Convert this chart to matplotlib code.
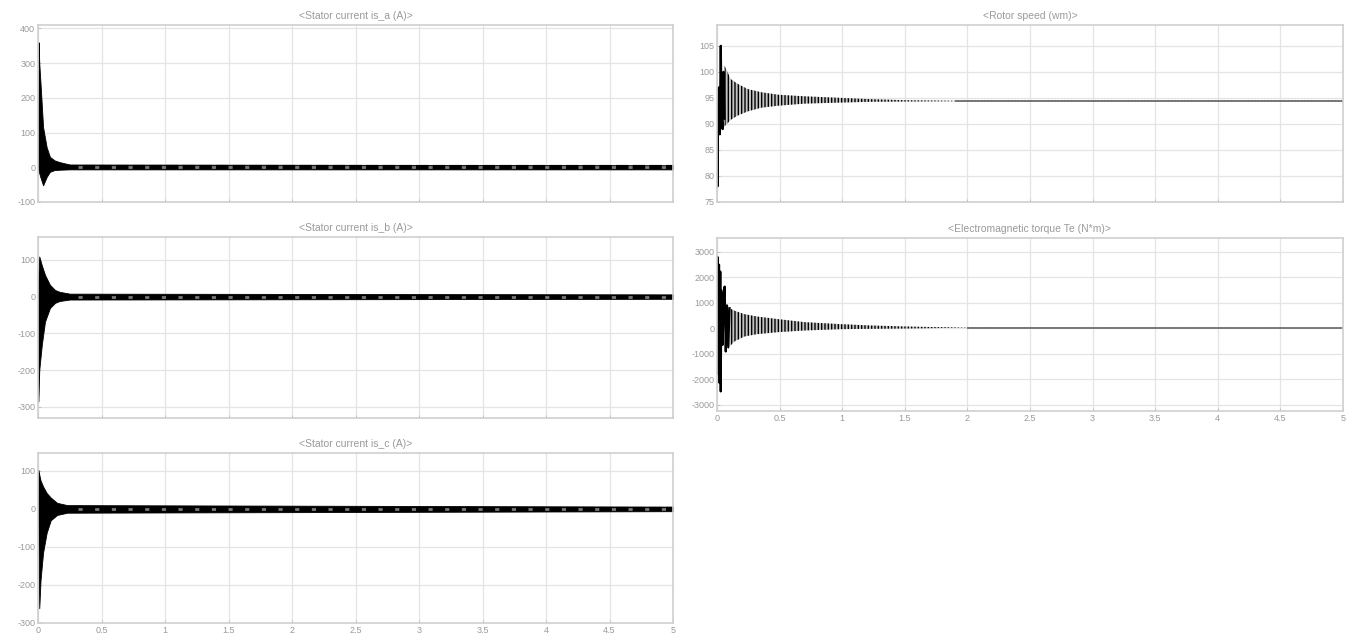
import numpy as np
import matplotlib
matplotlib.use('Agg')
import matplotlib.pyplot as plt

# ---- values (envelopes of the fast oscillation) ----
TITLES = ['<Stator current is_a (A)>', '<Rotor speed (wm)>',
          '<Stator current is_b (A)>', '<Electromagnetic torque Te (N*m)>',
          '<Stator current is_c (A)>']

# stator currents: upper / lower envelope, then steady ripple around ss value
ia_t = [0.0, 0.005, 0.01, 0.02, 0.04, 0.068, 0.094, 0.13, 0.17, 0.25, 5.0]
ia_hi = [0, 360, 300, 241, 116, 58, 30, 20, 15, 8, 6]
ia_lo = [0, -10, -17, -30, -52, -28, -13, -8, -7, -6, -6]

ib_t = [0.0, 0.003, 0.01, 0.03, 0.055, 0.094, 0.134, 0.17, 0.25, 5.0]
ib_hi = [0, 60, 109, 85, 59, 32, 18, 13, 8, 6]
ib_lo = [0, -285, -199, -131, -68, -31, -17, -12, -8, -6]

ic_t = [0.0, 0.003, 0.01, 0.02, 0.04, 0.068, 0.1, 0.15, 0.23, 5.0]
ic_hi = [0, 103, 90, 75, 59, 42, 30, 16, 10, 6]
ic_lo = [0, -60, -261, -187, -115, -63, -30, -16, -10, -6]

i_ss = 0.0
i_ss_start = 0.22

# rotor speed: start-up swing, then decaying envelope
wm_start_t = [0.0, 0.004, 0.008, 0.015, 0.022, 0.03, 0.037, 0.045, 0.052, 0.06]
wm_start_v = [94, 78, 93, 97, 88, 105, 91, 89, 100, 91]
wm_t = [0.06, 0.11, 0.165, 0.245, 0.35, 0.49, 0.70, 0.99, 1.23, 1.5, 1.9, 5.0]
wm_hi = [101.2, 98.6, 97.7, 96.7, 96.1, 95.6, 95.3, 95.0, 94.75, 94.55, 94.45, 94.45]
wm_lo = [89.5, 90.8, 91.6, 92.4, 93.1, 93.5, 93.9, 94.1, 94.25, 94.3, 94.35, 94.35]
wm_ss = 94.4

# electromagnetic torque
te_start_t = [0.0, 0.005, 0.01, 0.016, 0.021, 0.026, 0.03, 0.034, 0.037, 0.041,
              0.045, 0.052, 0.061, 0.07, 0.08, 0.09, 0.1]
te_start_v = [-1300, 2800, -1800, 2500, -2150, 2230, -2480, 1500, -300, 1380,
              -650, 1000, 1640, -910, 900, -750, 790]
te_t = [0.1, 0.14, 0.22, 0.32, 0.49, 0.70, 0.99, 1.23, 1.5, 1.76, 2.0, 5.0]
te_hi = [790, 690, 556, 463, 360, 242, 163, 111, 72, 46, 35, 30]
te_lo = [-713, -516, -320, -229, -150, -85, -33, -20, -8, 10, 25, 30]

X_TICKS = [0, 0.5, 1, 1.5, 2, 2.5, 3, 3.5, 4, 4.5, 5]
Y_TICKS = {
    'ia': [-100, 0, 100, 200, 300, 400],
    'wm': [75, 80, 85, 90, 95, 100, 105],
    'ib': [-300, -200, -100, 0, 100],
    'te': [-3000, -2000, -1000, 0, 1000, 2000, 3000],
    'ic': [-300, -200, -100, 0, 100],
}
Y_LIMS = {'ia': (-100, 410), 'wm': (75, 109), 'ib': (-330, 162),
          'te': (-3250, 3550), 'ic': (-300, 147)}

W, H = 1347, 642
# axes boxes in pixels: left, top, right, bottom
BOXES = {'ia': (38, 25, 673, 202), 'wm': (717, 25, 1343, 202),
         'ib': (38, 237, 673, 418), 'te': (717, 238, 1343, 411),
         'ic': (38, 453, 673, 623)}

GRID = '#e4e4e4'
SPINE = '#cfcfcf'
TXT = '#9a9a9a'
plt.rcParams['font.family'] = ['Liberation Sans', 'DejaVu Sans']
plt.rcParams['axes.unicode_minus'] = False
plt.rcParams['hatch.linewidth'] = 1.0
plt.rcParams['hatch.color'] = 'k'


def make_ax(fig, key, title, xlabels):
    l, t, r, b = BOXES[key]
    ax = fig.add_axes([l / W, 1 - b / H, (r - l) / W, (b - t) / H])
    ax.set_xlim(0, 5)
    ax.set_ylim(*Y_LIMS[key])
    ax.set_xticks(X_TICKS)
    ax.set_yticks(Y_TICKS[key])
    if xlabels:
        ax.set_xticklabels(['%g' % v for v in X_TICKS])
    else:
        ax.set_xticklabels([])
    ax.grid(True, color=GRID, lw=0.9)
    ax.set_axisbelow(True)
    for s in ax.spines.values():
        s.set_color(SPINE)
        s.set_linewidth(1.2)
    ax.tick_params(direction='in', length=2, width=0.6, color='#bbbbbb',
                   labelsize=6.5, labelcolor=TXT, pad=2)
    ax.set_title(title, fontsize=7.5, color=TXT, pad=4)
    return ax


def current_panel(ax, t, hi, lo):
    ax.fill_between(t, lo, hi, color='k', lw=0.6)
    # steady-state ripple aliased into a thick dashed trace
    ax.hlines(i_ss, i_ss_start, 5, color='#777777', lw=2.0)
    ax.hlines(i_ss, i_ss_start, 5, color='k', lw=3.0, linestyles=(0, (3, 1)))


fig = plt.figure(figsize=(W / 100, H / 100), dpi=100)

ax = make_ax(fig, 'ia', TITLES[0], False)
current_panel(ax, ia_t, ia_hi, ia_lo)

ax = make_ax(fig, 'ib', TITLES[2], False)
current_panel(ax, ib_t, ib_hi, ib_lo)

ax = make_ax(fig, 'ic', TITLES[4], True)
current_panel(ax, ic_t, ic_hi, ic_lo)

ax = make_ax(fig, 'wm', TITLES[1], False)
ax.fill_between(wm_t, wm_lo, wm_hi, facecolor='#c4c4c4', edgecolor='k',
                hatch='|||||', lw=0)
ax.hlines(wm_ss, wm_t[-2], 5, color='#666666', lw=1.2)
ax.plot(wm_start_t, wm_start_v, color='k', lw=1.6)

ax = make_ax(fig, 'te', TITLES[3], True)
ax.fill_between(te_t, te_lo, te_hi, facecolor='#c4c4c4', edgecolor='k',
                hatch='|||||', lw=0)
ax.hlines(te_hi[-1], te_t[-2], 5, color='#666666', lw=1.2)
ax.plot(te_start_t, te_start_v, color='k', lw=1.6)

fig.savefig('out.png', dpi=100, facecolor='white')
